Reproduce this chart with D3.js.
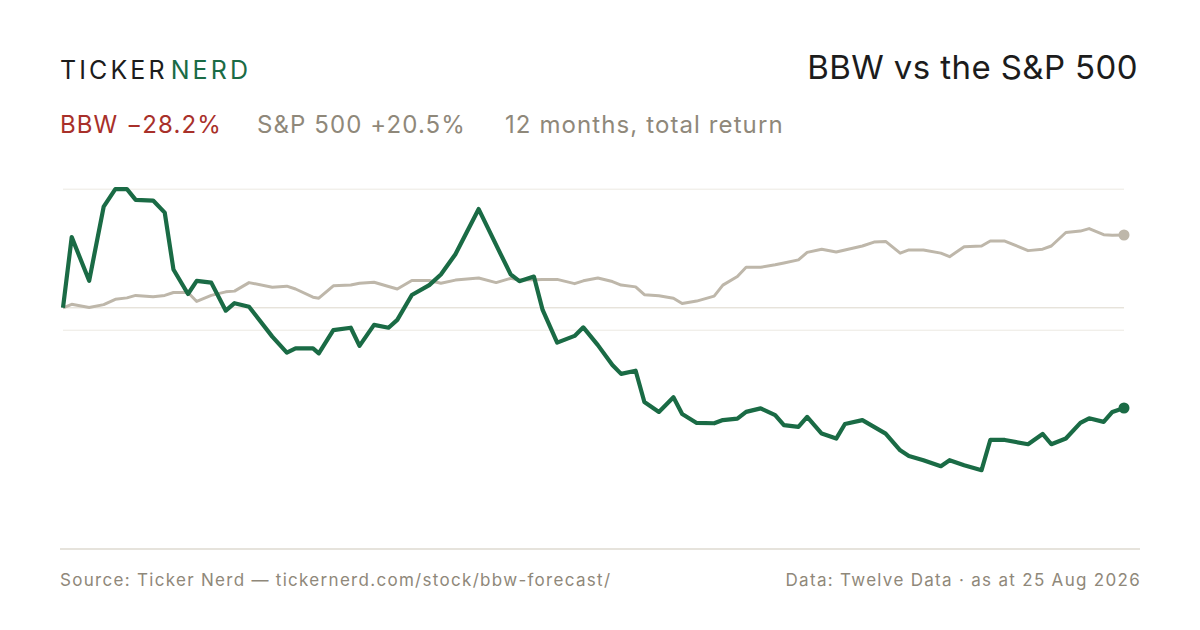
<!DOCTYPE html>
<html>
<head>
<meta charset="utf-8">
<script src="https://cdn.jsdelivr.net/npm/d3@7"></script>
<style>
  html, body { margin: 0; padding: 0; background: #fff; }
  svg { display: block; font-family: Inter, "Noto Sans", sans-serif; }
</style>
</head>
<body>
<svg id="chart"></svg>
<script>
// days since 25 Aug 2025, total return in %
const days = [0, 3, 9, 14, 18, 22, 25, 31, 35, 38, 43, 46, 51, 56, 59, 64, 72, 77, 80, 86,
  88, 93, 99, 102, 107, 112, 115, 120, 126, 130, 135, 143, 149, 154, 157, 162, 165, 170, 176, 179,
  184, 189, 192, 197, 200, 205, 210, 213, 218, 224, 227, 232, 235, 240, 245, 248, 253, 256, 261, 266,
  269, 275, 279, 283, 288, 291, 296, 302, 305, 310, 316, 319, 324, 332, 337, 340, 345, 350, 353, 358,
  361, 365]
const bbw = [0, 19.9, 7.6, 28.5, 33.4, 33.4, 30.4, 30.2, 26.8, 10.8, 3.9, 7.6, 7.1, -0.8, 1.3, 0.3, -8.1, -12.6, -11.4, -11.4,
  -12.8, -6.3, -5.6, -10.7, -4.8, -5.6, -3.4, 3.6, 6.4, 9.4, 15.1, 27.8, 17.7, 9.4, 7.5, 8.8, -0.6, -9.8, -7.9, -5.5,
  -10.5, -16.1, -18.6, -17.7, -26.5, -29.3, -25.2, -29.9, -32.4, -32.5, -31.6, -31.2, -29.3, -28.3, -30.2, -33.0, -33.5, -30.7, -35.4, -36.8,
  -32.7, -31.6, -33.5, -35.4, -40.1, -41.7, -42.9, -44.6, -42.9, -44.3, -45.7, -37.2, -37.2, -38.4, -35.5, -38.4, -36.8, -32.4, -31.1, -32.1,
  -29.3, -28.2]
const spx = [0, 1.0, 0.1, 0.9, 2.4, 2.8, 3.5, 3.1, 3.5, 4.3, 4.3, 1.8, 3.5, 4.5, 4.7, 7.1, 5.8, 6.1, 5.3, 3.0,
  2.7, 6.2, 6.4, 6.9, 7.2, 6.0, 5.3, 7.7, 7.7, 6.9, 7.8, 8.4, 7.1, 8.3, 7.8, 7.9, 8.0, 8.0, 6.8, 7.6,
  8.4, 7.4, 6.4, 5.9, 3.7, 3.4, 2.7, 1.2, 1.9, 3.3, 6.4, 8.8, 11.4, 11.4, 12.1, 12.6, 13.5, 15.6, 16.5, 15.7,
  16.3, 17.4, 18.5, 18.7, 15.4, 16.3, 16.3, 15.4, 14.4, 17.2, 17.4, 18.8, 18.8, 16.1, 16.5, 17.4, 21.2, 21.6, 22.3, 20.6,
  20.4, 20.5]
const gridValues = [33.4, -6.3]

const width = 1200, height = 630

const svg = d3.select("#chart")
  .attr("width", width)
  .attr("height", height)

const x = d3.scaleLinear().domain([0, 365]).range([63, 1124])
const y = d3.scaleLinear().domain([-28.2, 20.5]).range([408, 235])

// header
const brand = svg.append("text")
  .attr("x", 60).attr("y", 79)
  .attr("font-size", 25)
  .attr("letter-spacing", 3.1)
brand.append("tspan").attr("fill", "#1c1c1c").text("TICKER")
brand.append("tspan").attr("fill", "#1a6b45").attr("dx", 3).text("NERD")

svg.append("text")
  .attr("x", 1138).attr("y", 79)
  .attr("text-anchor", "end")
  .attr("font-size", 33)
  .attr("letter-spacing", 0.4)
  .attr("fill", "#1c1c1c")
  .text("BBW vs the S&P 500")

const sub = svg.append("text")
  .attr("y", 133)
  .attr("font-size", 24)
  .attr("letter-spacing", 1.1)
sub.append("tspan").attr("x", 60).attr("fill", "#a8302a").text("BBW \u221228.2%")
sub.append("tspan").attr("x", 257).attr("fill", "#8f887a").text("S&P 500 +20.5%")
sub.append("tspan").attr("x", 505).attr("fill", "#8f887a").text("12 months, total return")

// grid
svg.selectAll("line.grid")
  .data(gridValues)
  .enter().append("line")
  .attr("class", "grid")
  .attr("x1", x(0)).attr("x2", x(365))
  .attr("y1", d => y(d)).attr("y2", d => y(d))
  .attr("stroke", "#ece9e2")
  .attr("stroke-width", 1)

svg.append("line")
  .attr("x1", x(0)).attr("x2", x(365))
  .attr("y1", y(0)).attr("y2", y(0))
  .attr("stroke", "#dcd7cb")
  .attr("stroke-width", 1)

// lines
const line = series => d3.line()
  .x((d, i) => x(days[i]))
  .y((d, i) => y(series[i]))(series)

svg.append("path")
  .attr("d", line(spx))
  .attr("fill", "none")
  .attr("stroke", "#beb7aa")
  .attr("stroke-width", 3)
  .attr("stroke-linejoin", "round")

svg.append("path")
  .attr("d", line(bbw))
  .attr("fill", "none")
  .attr("stroke", "#1a6b45")
  .attr("stroke-width", 4.2)
  .attr("stroke-linejoin", "round")

const last = days.length - 1
svg.append("circle")
  .attr("cx", x(days[last])).attr("cy", y(spx[last]))
  .attr("r", 5.5).attr("fill", "#beb7aa")
svg.append("circle")
  .attr("cx", x(days[last])).attr("cy", y(bbw[last]))
  .attr("r", 5.5).attr("fill", "#1a6b45")

// footer
svg.append("line")
  .attr("x1", 60).attr("x2", 1140)
  .attr("y1", 549).attr("y2", 549)
  .attr("stroke", "#dedad0")
  .attr("stroke-width", 1.5)

svg.append("text")
  .attr("x", 60).attr("y", 586)
  .attr("font-size", 17)
  .attr("letter-spacing", 1.3)
  .attr("fill", "#8f887a")
  .text("Source: Ticker Nerd \u2014 tickernerd.com/stock/bbw-forecast/")

svg.append("text")
  .attr("x", 1141).attr("y", 586)
  .attr("text-anchor", "end")
  .attr("font-size", 17)
  .attr("letter-spacing", 1.3)
  .attr("fill", "#8f887a")
  .text("Data: Twelve Data \u00b7 as at 25 Aug 2026")
</script>
</body>
</html>
